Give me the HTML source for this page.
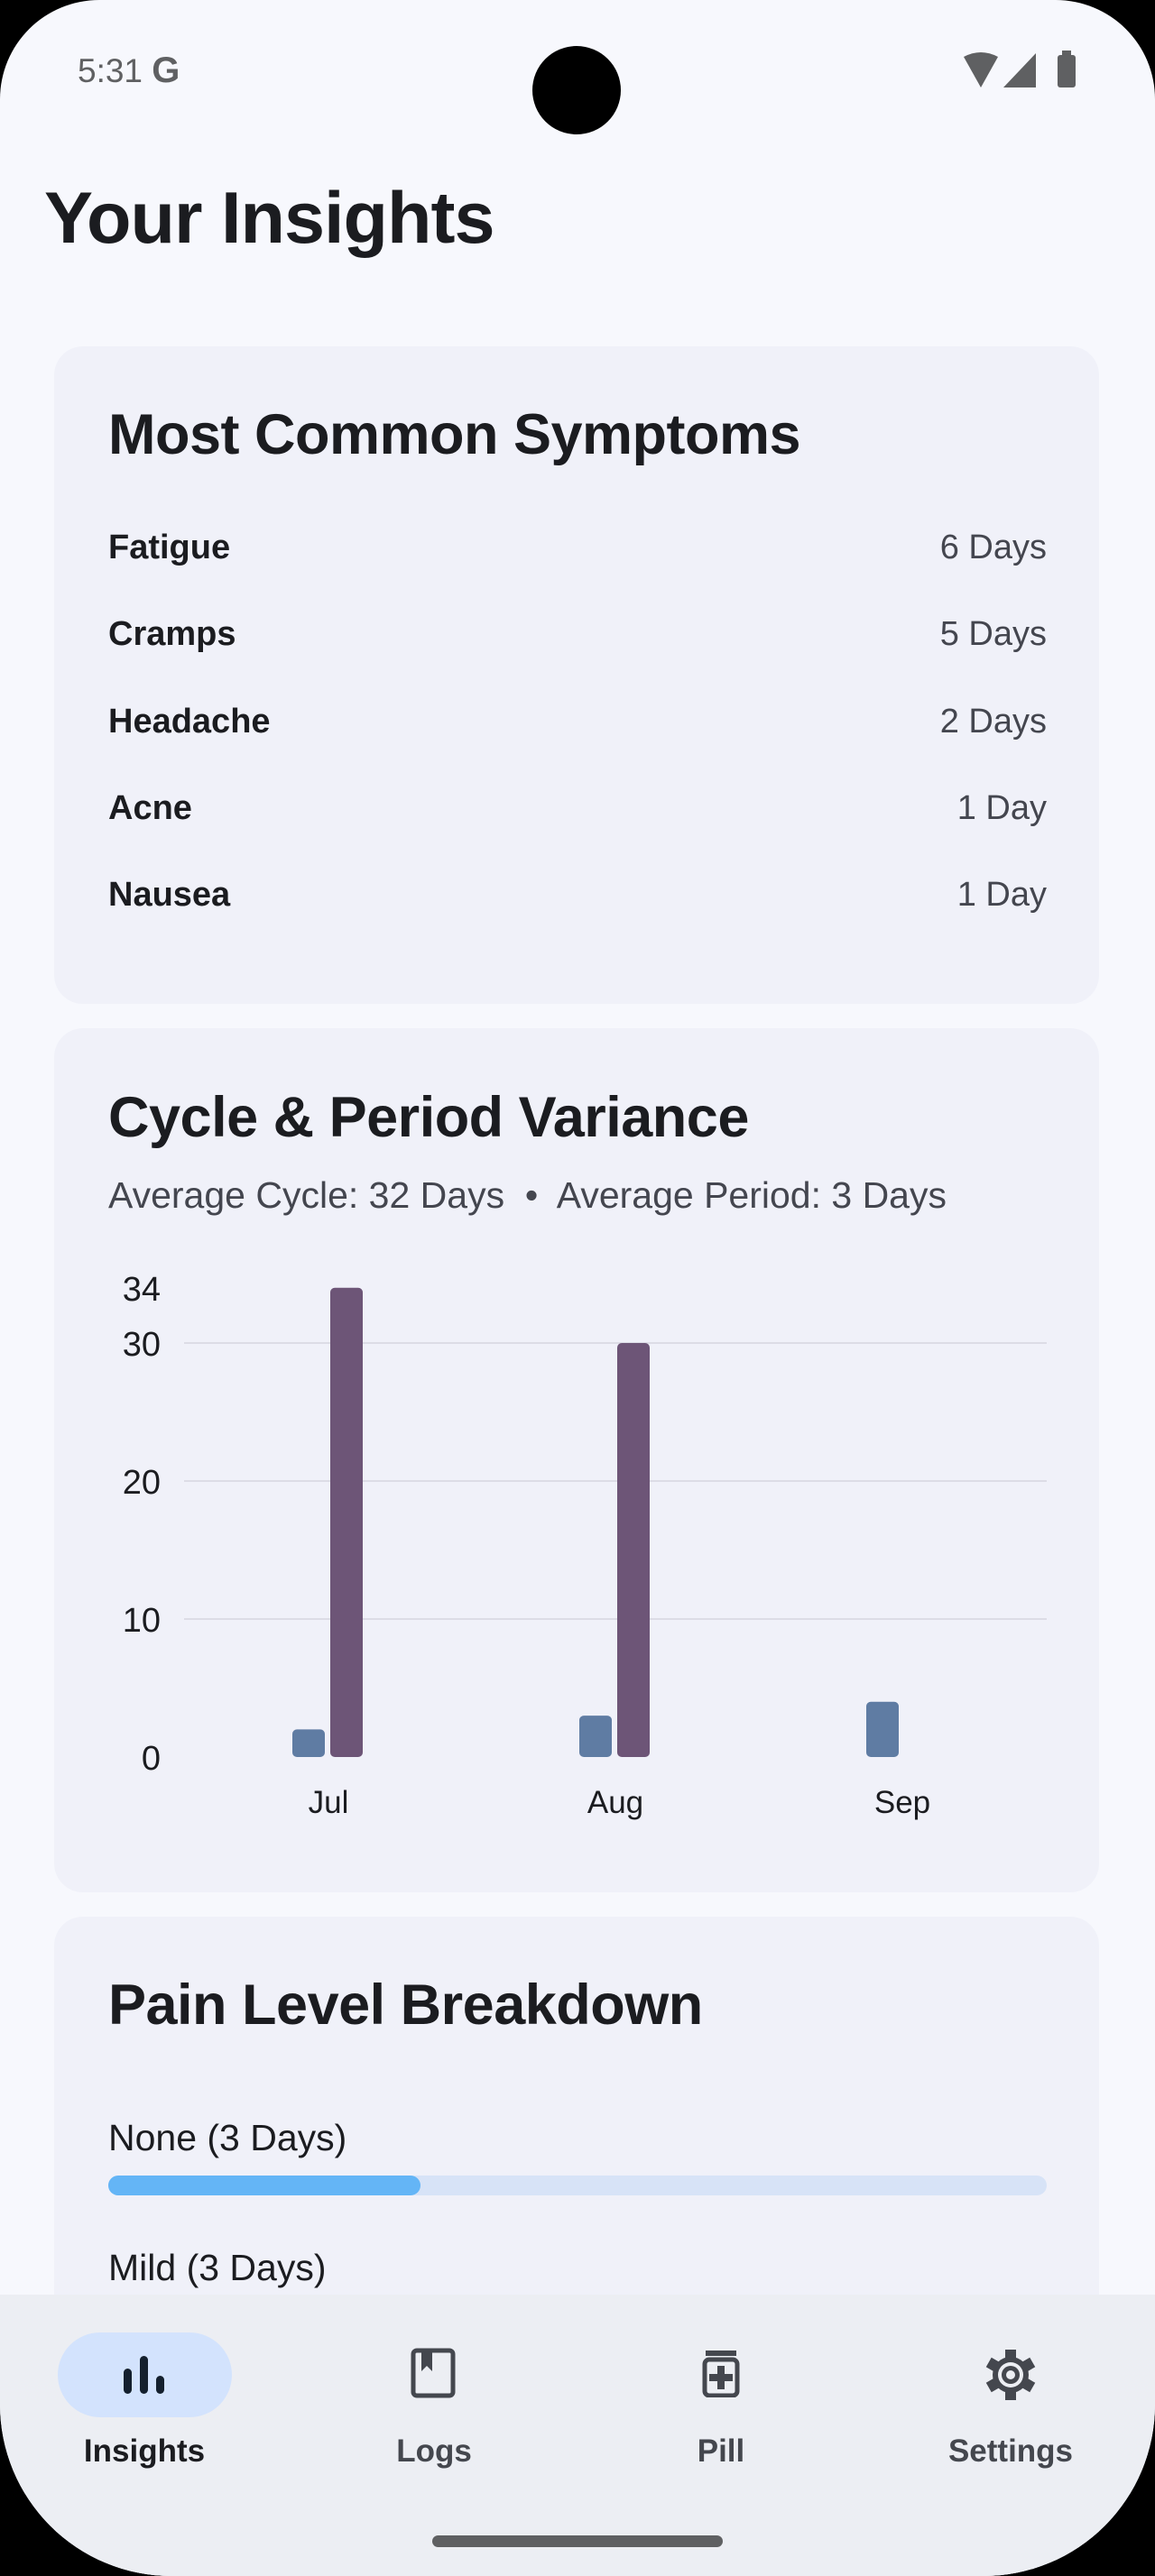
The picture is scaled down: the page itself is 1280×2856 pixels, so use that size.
<!DOCTYPE html>
<html><head><meta charset="utf-8">
<style>
*{margin:0;padding:0;box-sizing:border-box}
html,body{width:1280px;height:2856px;background:#000;overflow:hidden;font-family:"Liberation Sans",sans-serif}
#phone{position:absolute;left:0;top:0;width:1280px;height:2856px;background:#f7f8fd;border-radius:110px 110px 190px 190px;overflow:hidden}
.abs{position:absolute}
.card{position:absolute;left:60px;width:1158px;background:#f0f1f9;border-radius:32px}
.t{position:absolute;white-space:nowrap;color:#1b1c20}
.h{font-weight:bold;font-size:63px;letter-spacing:-0.5px}
.lbl{font-weight:bold;font-size:38px}
.val{font-size:38px;color:#44464f;right:58px}
</style></head><body>
<div id="phone">
  <div class="t" style="left:86px;top:56px;font-size:37px;color:#5f6062">5:31 <b style="font-size:40px">G</b></div>
  <div class="abs" style="left:590px;top:51px;width:98px;height:98px;border-radius:50%;background:#000"></div>
  <svg class="abs" style="left:1060px;top:55px" width="150" height="45">
    <path d="M8 8 Q27 -2 46 8 L27 42 Z" fill="#5f6062"/>
    <path d="M88 4 L88 42 L52 42 Z" fill="#5f6062"/>
    <rect x="112" y="6" width="20" height="36" rx="3" fill="#5f6062"/><rect x="117" y="1" width="10" height="6" fill="#5f6062"/>
  </svg>
  <div class="t" style="left:49px;top:196px;font-size:81px;font-weight:bold;letter-spacing:-1px">Your Insights</div>

  <div class="card" style="top:384px;height:729px">
    <div class="t h" style="left:60px;top:62px">Most Common Symptoms</div>
    <div class="t lbl" style="left:60px;top:202px">Fatigue</div><div class="t val" style="top:202px">6 Days</div>
    <div class="t lbl" style="left:60px;top:298px">Cramps</div><div class="t val" style="top:298px">5 Days</div>
    <div class="t lbl" style="left:60px;top:395px">Headache</div><div class="t val" style="top:395px">2 Days</div>
    <div class="t lbl" style="left:60px;top:491px">Acne</div><div class="t val" style="top:491px">1 Day</div>
    <div class="t lbl" style="left:60px;top:587px">Nausea</div><div class="t val" style="top:587px">1 Day</div>
  </div>

  <div class="card" style="top:1140px;height:958px">
    <div class="t h" style="left:60px;top:63px">Cycle &amp; Period Variance</div>
    <div class="t" style="left:60px;top:162px;font-size:41px;color:#44464f">Average Cycle: 32 Days &nbsp;•&nbsp; Average Period: 3 Days</div>
  </div>
  <svg id="chart" class="abs" style="left:0;top:0" width="1280" height="2100"></svg>

  <div class="card" style="top:2125px;height:800px">
    <div class="t h" style="left:60px;top:62px">Pain Level Breakdown</div>
    <div class="t" style="left:60px;top:222px;font-size:41px">None (3 Days)</div>
    <div class="abs" style="left:60px;top:287px;width:1040px;height:22px;border-radius:11px;background:#d7e3f7">
      <div style="width:346px;height:22px;border-radius:11px;background:#64b5f6"></div>
    </div>
    <div class="t" style="left:60px;top:366px;font-size:41px">Mild (3 Days)</div>
  </div>

  <div class="abs" style="left:0;top:2544px;width:1280px;height:312px;background:#eceef3">
    <div class="abs" style="left:64px;top:42px;width:193px;height:94px;border-radius:47px;background:#d3e3fd"></div>
    <svg class="abs" style="left:135px;top:64px" width="50" height="50">
      <rect x="2" y="18" width="9" height="28" rx="4.5" fill="#14202e"/><rect x="20" y="4" width="9" height="42" rx="4.5" fill="#14202e"/><rect x="38" y="26" width="9" height="20" rx="4.5" fill="#14202e"/>
    </svg>
    <svg class="abs" style="left:455px;top:59px" width="52" height="56">
      <rect x="3" y="3" width="44" height="50" rx="4" fill="none" stroke="#44474e" stroke-width="5"/><path d="M12 3 L12 26 L18 20 L24 26 L24 3" fill="#44474e"/>
    </svg>
    <svg class="abs" style="left:777px;top:60px" width="44" height="54">
      <rect x="5" y="2" width="34" height="6" fill="#44474e"/><rect x="4" y="12" width="36" height="40" rx="5" fill="none" stroke="#44474e" stroke-width="5"/><rect x="18" y="19" width="8" height="26" fill="#44474e"/><rect x="9" y="28" width="26" height="8" fill="#44474e"/>
    </svg>
    <svg class="abs" style="left:1090px;top:59px" width="60" height="60">
      <g fill="#44474e"><circle cx="30" cy="30" r="20"/>
      <rect x="24" y="2" width="12" height="56"/><rect x="24" y="2" width="12" height="56" transform="rotate(60 30 30)"/><rect x="24" y="2" width="12" height="56" transform="rotate(120 30 30)"/></g>
      <circle cx="30" cy="30" r="14" fill="#eceef3"/><circle cx="30" cy="30" r="10" fill="#44474e"/><circle cx="30" cy="30" r="5" fill="#eceef3"/>
    </svg>
    <div class="t" style="left:0;width:320px;text-align:center;top:154px;font-size:35px;font-weight:bold;color:#1b1c20">Insights</div>
    <div class="t" style="left:321px;width:320px;text-align:center;top:154px;font-size:35px;font-weight:bold;color:#44474e">Logs</div>
    <div class="t" style="left:639px;width:320px;text-align:center;top:154px;font-size:35px;font-weight:bold;color:#44474e">Pill</div>
    <div class="t" style="left:960px;width:320px;text-align:center;top:154px;font-size:35px;font-weight:bold;color:#44474e">Settings</div>
    <div class="abs" style="left:479px;top:267px;width:322px;height:13px;border-radius:7px;background:#5f6062"></div>
  </div>
</div>
<script>
const months = ["Jul","Aug","Sep"];
const periodValues = [2,3,4];
const cycleValues = [34,30,null];
const yTicks = [0,10,20,30,34];
const gridTicks = [10,20,30];
const svg = document.getElementById('chart');
const NS = 'http://www.w3.org/2000/svg';
const y0 = 1948, unit = 15.3;
const yScale = v => y0 - v * unit;
const x0 = 364, step = 318;
const xCenter = i => x0 + i * step;
function mk(tag, attrs){const e=document.createElementNS(NS,tag);for(const k in attrs)e.setAttribute(k,attrs[k]);svg.appendChild(e);return e;}
gridTicks.forEach(t=>{
  const l=mk('line',{x1:204,x2:1160,y1:yScale(t),y2:yScale(t),stroke:'#dcdce6','stroke-width':2});
  
  
});
yTicks.forEach(t=>{
  const tx=mk('text',{x:178,y:yScale(t)+14,'text-anchor':'end','font-size':38,fill:'#1b1c20','font-family':'Liberation Sans, sans-serif'});
  tx.textContent=t;
  
  
});
months.forEach((m,i)=>{
  const c=xCenter(i);
  const pv=periodValues[i];
  const b=mk('rect',{x:c-40,y:yScale(pv),width:36,height:y0-yScale(pv),rx:5,fill:'#5f7ca3'});
  
  
  if(cycleValues[i]!=null){
    const cv=cycleValues[i];
    const r=mk('rect',{x:c+2,y:yScale(cv),width:36,height:y0-yScale(cv),rx:5,fill:'#6d5577'});
    
    
  }
  const tx=mk('text',{x:c,y:2010,'text-anchor':'middle','font-size':35,fill:'#1b1c20','font-family':'Liberation Sans, sans-serif'});
  tx.textContent=m;
  
  
});
</script>
</body></html>
